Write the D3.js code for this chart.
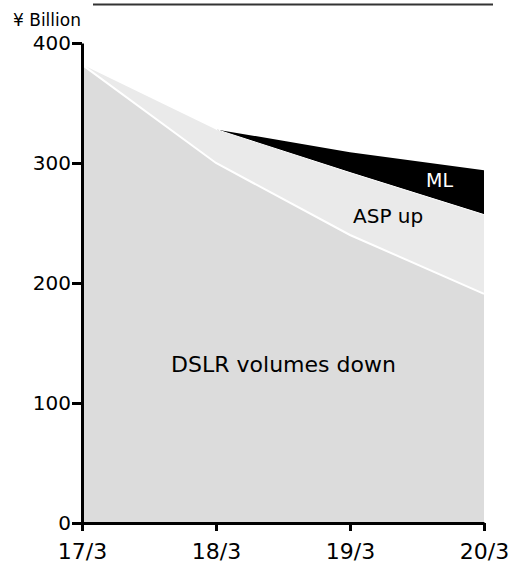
<!DOCTYPE html>
<html>
<head>
<meta charset="utf-8">
<script src="https://cdn.jsdelivr.net/npm/d3@7"></script>
<style>
  html, body { margin: 0; padding: 0; background: #fff; }
  svg { display: block; font-family: "DejaVu Sans", Verdana, sans-serif; }
</style>
</head>
<body>
<svg id="chart" width="511" height="562"></svg>
<script>
// Data (¥ Billion)
const periods = ["17/3", "18/3", "19/3", "20/3"];
const dslrVolumes = [382, 300, 240, 191];
const aspUp = [0, 28, 52, 66];
const mirrorless = [0, 0, 17, 37];
const yTicks = [0, 100, 200, 300, 400];
const unitLabel = "¥ Billion";
const seriesNames = ["DSLR volumes down", "ASP up", "ML"];

const rows = periods.map((p, i) => ({ period: p, dslr: dslrVolumes[i], asp: aspUp[i], ml: mirrorless[i] }));

const svg = d3.select("#chart");
const x = d3.scalePoint().domain(periods).range([82, 484]);
const y = d3.scaleLinear().domain([0, 400]).range([523, 43]);

const stack = d3.stack().keys(["dslr", "asp", "ml"]);
const layers = stack(rows);
const fills = ["#dcdcdc", "#eaeaea", "#000000"];

const area = d3.area()
  .x(d => x(d.data.period))
  .y0(d => y(d[0]))
  .y1(d => y(d[1]));

svg.append("g").selectAll("path")
  .data(layers)
  .join("path")
  .attr("d", area)
  .attr("fill", (d, i) => fills[i]);

// White separator lines
const line = d3.line().x(d => x(d.data.period)).y(d => y(d[1]));
svg.append("path").datum(layers[0]).attr("d", line)
  .attr("fill", "none").attr("stroke", "#fff").attr("stroke-width", 2);
svg.append("path").datum(layers[1].filter((d, i) => i >= 1)).attr("d", line)
  .attr("fill", "none").attr("stroke", "#fff").attr("stroke-width", 1);

// Title underline (cropped title)
svg.append("line").attr("x1", 93).attr("x2", 493).attr("y1", 4.5).attr("y2", 4.5)
  .attr("stroke", "#333").attr("stroke-width", 2);

// Axes
const yAxis = svg.append("g").attr("transform", `translate(${x(periods[0])},0)`)
  .call(d3.axisLeft(y).tickValues(yTicks).tickFormat(d3.format("d")).tickSize(10).tickSizeOuter(0).tickPadding(1));
yAxis.selectAll("path, line").attr("stroke", "#000").attr("stroke-width", 3);
yAxis.selectAll("text").attr("font-size", 20).attr("fill", "#000").attr("font-family", "DejaVu Sans");

const xAxis = svg.append("g").attr("transform", `translate(0,${y(0)})`)
  .call(d3.axisBottom(x).tickSize(8).tickSizeOuter(0).tickPadding(12));
xAxis.selectAll("path, line").attr("stroke", "#000").attr("stroke-width", 3);
xAxis.selectAll("text").attr("font-size", 22).attr("fill", "#000").attr("font-family", "DejaVu Sans");

// Unit label
svg.append("text").attr("x", 13).attr("y", 26).attr("font-size", 17).attr("fill", "#000").text(unitLabel);

// Series labels
svg.append("text").attr("x", 283.5).attr("y", 372).attr("text-anchor", "middle")
  .attr("font-size", 22).attr("fill", "#000").text(seriesNames[0]);
svg.append("text").attr("x", 353).attr("y", 223)
  .attr("font-size", 20).attr("fill", "#000").text(seriesNames[1]);
svg.append("text").attr("x", 426).attr("y", 187)
  .attr("font-size", 19).attr("fill", "#fff").text(seriesNames[2]);
</script>
</body>
</html>
